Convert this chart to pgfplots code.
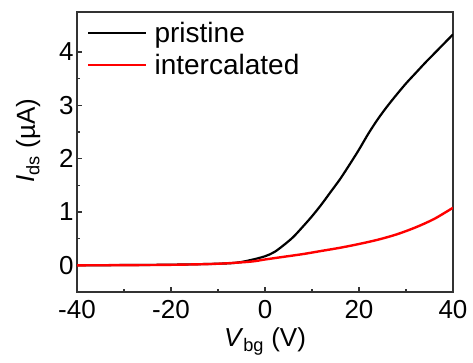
\documentclass[border=0pt]{standalone}
\usepackage{fontspec}
\setmainfont{Liberation Sans}
\usepackage{pgfplots}
\pgfplotsset{compat=1.18}
\begin{document}
\begin{tikzpicture}[x=1pt,y=1pt]
\useasboundingbox (-77,-70) rectangle (396,292);
\begin{axis}[
  at={(0,0)}, anchor=south west,
  scale only axis, width=376pt, height=280pt,
  xmin=-40, xmax=40, ymin=-0.5, ymax=4.75,
  xtick={-40,-20,0,20,40},
  xticklabels={{-40},{-20},{0},{20},{40}},
  ytick={0,1,2,3,4},
  yticklabels={{0},{1},{2},{3},{4}},
  minor x tick num=1, minor y tick num=1,
  tick pos=left, tick align=inside,
  major tick length=5pt, minor tick length=3pt,
  axis line style={line width=1.6pt, black!80},
  every tick/.style={line width=1.4pt, black!80},
  font=\fontsize{26}{30}\selectfont,
  tick label style={font=\fontsize{26}{30}\selectfont},
  xticklabel style={yshift=-5pt},
  xlabel={\textit{V}\textsubscript{bg} (V)},
  xlabel style={yshift=-2pt},
  ylabel={\textit{I}\textsubscript{ds} (µA)},
  ylabel style={at={(axis description cs:-0.13,0.54)}, anchor=center},
  legend style={draw=none, fill=none, at={(axis description cs:0.0,1.0)}, anchor=north west,
    xshift=4pt, yshift=-6pt,
    font=\fontsize{28}{30}\selectfont, row sep=6pt, column sep=5pt, inner xsep=6pt, inner ysep=2pt},
  legend cell align=left,
  legend image code/.code={\draw[#1] (0pt,0pt) -- (58pt,0pt);},
]
\addplot[black, line width=2.2pt, smooth] coordinates {
(-40,0) (-30,0.005) (-20,0.012) (-10,0.03) (-6,0.05) (-3,0.1) (0,0.17) (2,0.25) (4,0.38) (6,0.53) (8,0.72) (10,0.92) (12,1.14) (14,1.38) (16,1.62) (18,1.89) (20,2.17) (22,2.47) (24,2.74) (26,2.98) (28,3.2) (30,3.41) (32,3.6) (34,3.79) (36,3.97) (38,4.15) (40,4.33)
};
\addlegendentry{pristine}
\addplot[red, line width=2.4pt, smooth] coordinates {
(-40,0) (-30,0.004) (-20,0.01) (-10,0.03) (-3,0.07) (0,0.11) (4,0.16) (8,0.21) (12,0.27) (16,0.33) (20,0.4) (24,0.48) (28,0.58) (32,0.71) (36,0.87) (40,1.08)
};
\addlegendentry{intercalated}
\end{axis}
\end{tikzpicture}
\end{document}
